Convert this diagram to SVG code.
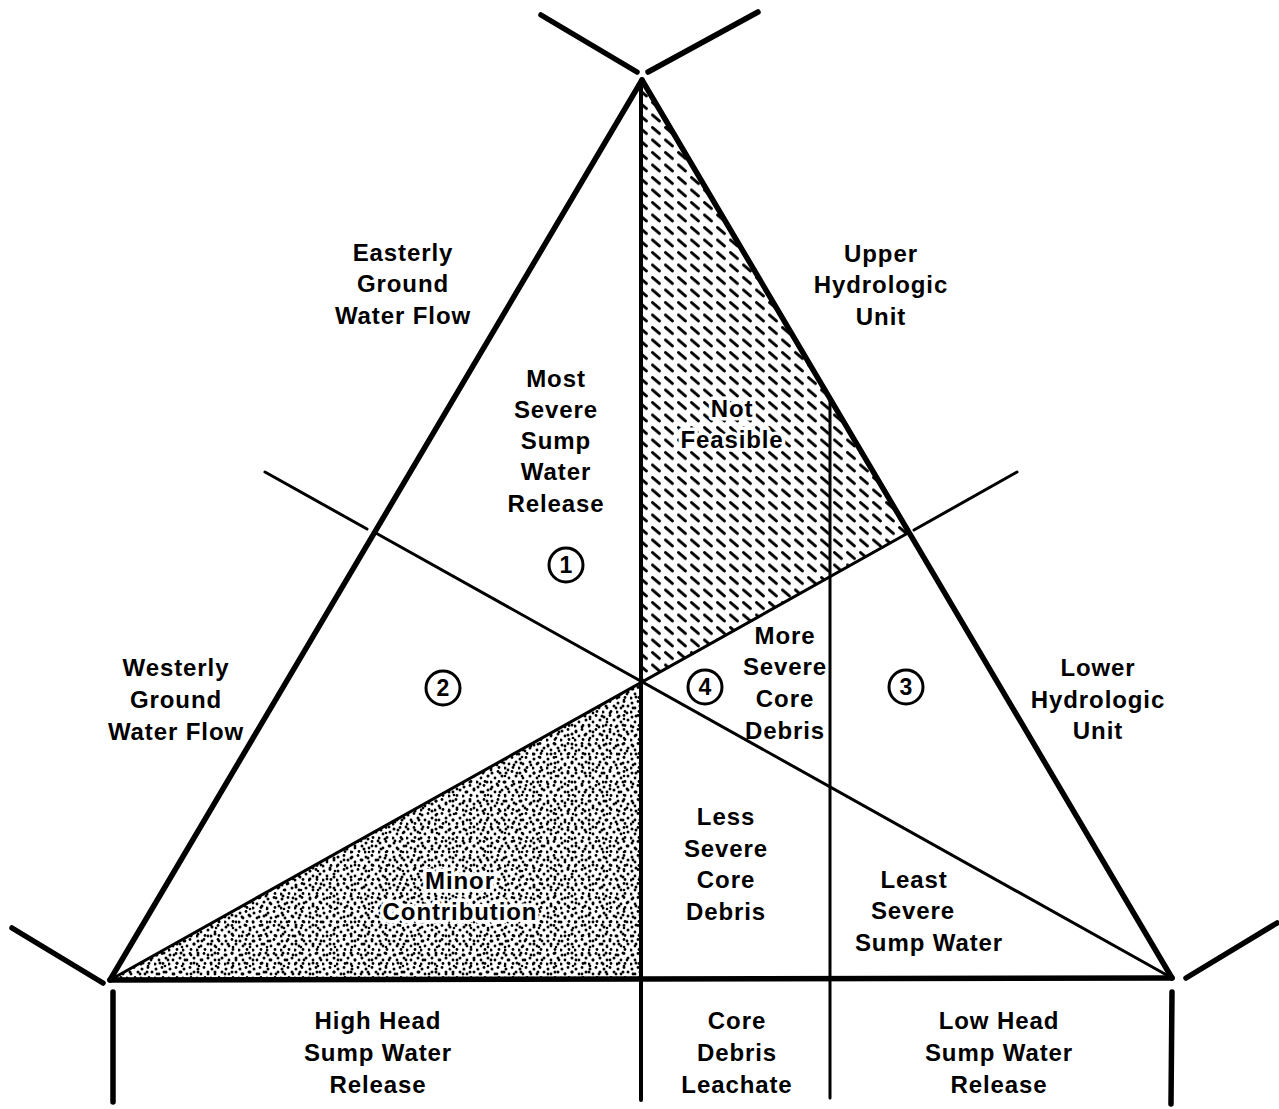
<svg xmlns="http://www.w3.org/2000/svg" width="1279" height="1109" viewBox="0 0 1279 1109">
<style>
.t{font-family:"Liberation Sans",Arial,sans-serif;font-weight:bold;font-size:24px;letter-spacing:0.9px;text-anchor:middle;fill:#000}
.h{paint-order:stroke;stroke:#fff;stroke-width:7px;stroke-linejoin:round}
.n{font-family:"Liberation Sans",Arial,sans-serif;font-weight:bold;font-size:23px;text-anchor:middle;fill:#000}
.c{fill:#fff;stroke:#000;stroke-width:3}
.thick{stroke:#000;stroke-width:5.5;stroke-linecap:round;fill:none}
.mid{stroke:#000;stroke-width:4;stroke-linecap:round;fill:none}
.thin{stroke:#000;stroke-width:3;stroke-linecap:round;fill:none}
</style>
<defs>
<pattern id="hatch" patternUnits="userSpaceOnUse" width="13" height="12.5">
<line x1="2.5" y1="2.5" x2="9.5" y2="8.5" stroke="#000" stroke-width="3" stroke-linecap="round"/>
</pattern>
<pattern id="dotsA" patternUnits="userSpaceOnUse" width="14" height="14">
<circle cx="2" cy="3" r="1.5"/><circle cx="8" cy="1.5" r="1.4"/><circle cx="12" cy="6" r="1.5"/><circle cx="5" cy="8" r="1.4"/><circle cx="1" cy="12" r="1.5"/><circle cx="9" cy="11.5" r="1.4"/>
</pattern>
<pattern id="dotsB" patternUnits="userSpaceOnUse" width="17" height="19">
<circle cx="4" cy="5" r="1.4"/><circle cx="11" cy="3" r="1.5"/><circle cx="15" cy="10" r="1.4"/><circle cx="7" cy="13" r="1.5"/><circle cx="12" cy="16" r="1.3"/>
</pattern>
</defs>
<rect width="1279" height="1109" fill="#fff"/>

<g id="region-not-feasible">
<polygon points="642,80 908,533 641,683" fill="url(#hatch)"/>
</g>
<g id="region-minor-contribution">
<polygon points="110,980 641,683 641,980" fill="url(#dotsA)"/>
<polygon points="110,980 641,683 641,980" fill="url(#dotsB)"/>
</g>

<g id="connectors">
<line class="thick" x1="541" y1="15" x2="637" y2="72"/>
<line class="thick" x1="648" y1="72" x2="758" y2="12"/>
<line class="thick" x1="12" y1="928" x2="103" y2="983"/>
<line class="thick" x1="1186" y1="978" x2="1277" y2="923"/>
<line class="thick" x1="642" y1="80" x2="110" y2="980"/>
<line class="thick" x1="642" y1="80" x2="1172" y2="978"/>
<line class="thick" x1="110" y1="980" x2="1172" y2="978"/>
<line class="thick" x1="113" y1="992" x2="113" y2="1102"/>
<line class="thick" x1="1172" y1="992" x2="1171" y2="1104"/>
<line class="mid" x1="641" y1="82" x2="641" y2="1100"/>
<line class="thin" x1="830" y1="401" x2="830" y2="1098"/>
<line class="thin" x1="265" y1="472" x2="367" y2="529"/>
<line class="thin" x1="374" y1="532" x2="1172" y2="978"/>
<line class="thin" x1="1017" y1="472" x2="914" y2="530"/>
<line class="thin" x1="908" y1="533" x2="110" y2="980"/>
</g>

<g id="label-easterly">
<text class="t" x="403" y="261">Easterly</text>
<text class="t" x="403" y="292">Ground</text>
<text class="t" x="403" y="324">Water Flow</text>
</g>
<g id="label-upper">
<text class="t" x="881" y="262">Upper</text>
<text class="t" x="881" y="293">Hydrologic</text>
<text class="t" x="881" y="325">Unit</text>
</g>
<g id="label-most-severe">
<text class="t" x="556" y="387">Most</text>
<text class="t" x="556" y="418">Severe</text>
<text class="t" x="556" y="449">Sump</text>
<text class="t" x="556" y="480">Water</text>
<text class="t" x="556" y="512">Release</text>
</g>
<g id="label-not-feasible">
<text class="t h" x="732" y="417">Not</text>
<text class="t h" x="732" y="448">Feasible</text>
</g>
<g id="label-westerly">
<text class="t" x="176" y="676">Westerly</text>
<text class="t" x="176" y="708">Ground</text>
<text class="t" x="176" y="740">Water Flow</text>
</g>
<g id="label-more-severe">
<text class="t" x="785" y="644">More</text>
<text class="t" x="785" y="675">Severe</text>
<text class="t" x="785" y="707">Core</text>
<text class="t" x="785" y="739">Debris</text>
</g>
<g id="label-lower">
<text class="t" x="1098" y="676">Lower</text>
<text class="t" x="1098" y="708">Hydrologic</text>
<text class="t" x="1098" y="739">Unit</text>
</g>
<g id="label-less-severe">
<text class="t" x="726" y="825">Less</text>
<text class="t" x="726" y="857">Severe</text>
<text class="t" x="726" y="888">Core</text>
<text class="t" x="726" y="920">Debris</text>
</g>
<g id="label-minor">
<text class="t h" x="460" y="889">Minor</text>
<text class="t h" x="460" y="920">Contribution</text>
</g>
<g id="label-least-severe">
<text class="t" x="914" y="888">Least</text>
<text class="t" x="913" y="919">Severe</text>
<text class="t" x="929" y="951">Sump Water</text>
</g>
<g id="label-high-head">
<text class="t" x="378" y="1029">High Head</text>
<text class="t" x="378" y="1061">Sump Water</text>
<text class="t" x="378" y="1093">Release</text>
</g>
<g id="label-core-leachate">
<text class="t" x="737" y="1029">Core</text>
<text class="t" x="737" y="1061">Debris</text>
<text class="t" x="737" y="1093">Leachate</text>
</g>
<g id="label-low-head">
<text class="t" x="999" y="1029">Low Head</text>
<text class="t" x="999" y="1061">Sump Water</text>
<text class="t" x="999" y="1093">Release</text>
</g>

<g id="marker-1"><circle class="c" cx="566" cy="565" r="17"/><text class="n" x="566" y="573">1</text></g>
<g id="marker-2"><circle class="c" cx="443" cy="688" r="17"/><text class="n" x="443" y="696">2</text></g>
<g id="marker-3"><circle class="c" cx="906" cy="687" r="17"/><text class="n" x="906" y="695">3</text></g>
<g id="marker-4"><circle class="c" cx="705" cy="687" r="17"/><text class="n" x="705" y="695">4</text></g>
</svg>
